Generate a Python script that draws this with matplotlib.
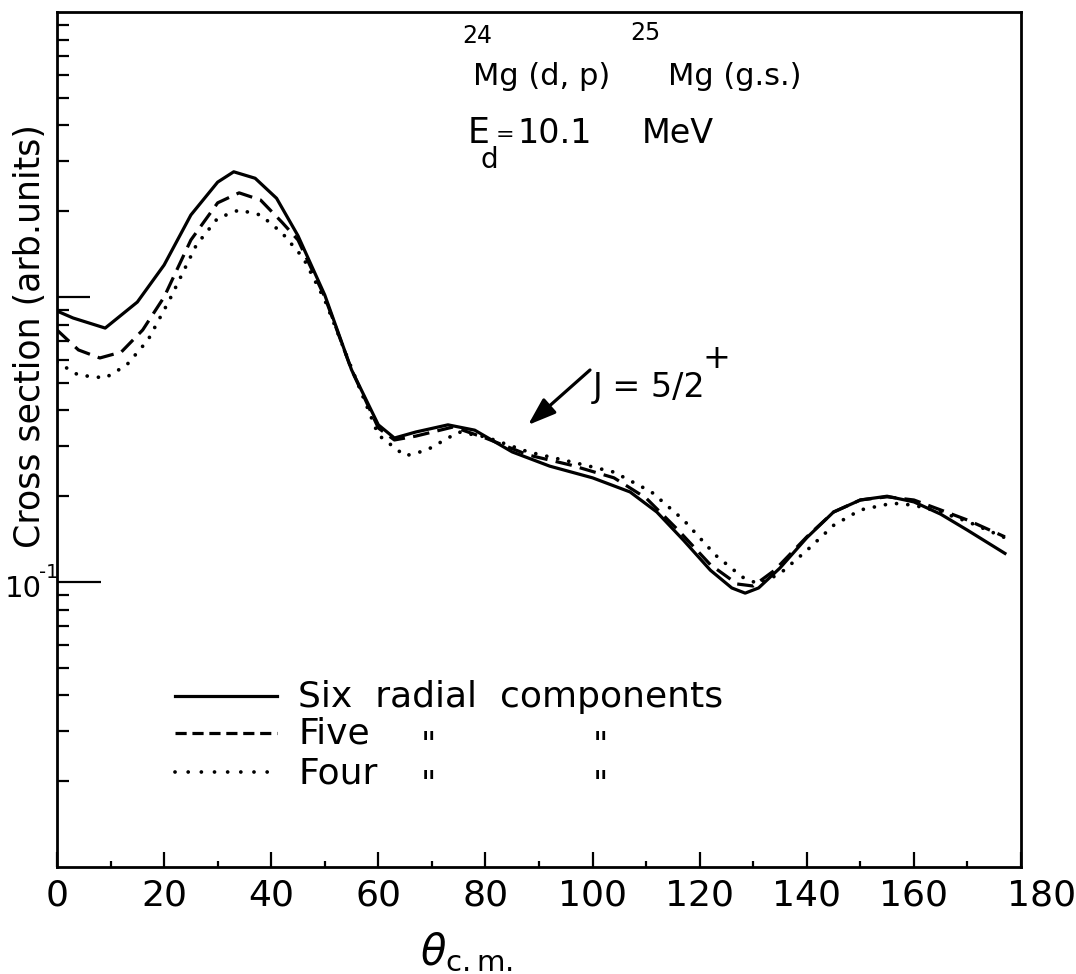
import numpy as np
import matplotlib
matplotlib.use('Agg')
import matplotlib.pyplot as plt
import matplotlib.transforms as mtransforms
from matplotlib.lines import Line2D
from matplotlib.ticker import FixedLocator, FixedFormatter, NullFormatter

W, H = 1076, 974

# angle (deg, c.m.) and cross section (arb. units)
theta_six = [0, 3, 9, 15, 20, 25, 30, 33, 37, 41, 45, 50, 55, 60, 63, 67, 73, 78, 85, 92,
             100, 107, 112, 117, 122, 126, 128.5, 131, 135, 140, 145, 150, 155, 160, 165, 170, 177]
sigma_six = [0.893, 0.844, 0.778, 0.960, 1.295, 1.94, 2.53, 2.75, 2.61, 2.22, 1.64, 1.016, 0.555,
             0.356, 0.320, 0.336, 0.356, 0.341, 0.286, 0.255, 0.232, 0.207, 0.176, 0.140, 0.110,
             0.0953, 0.0914, 0.0953, 0.112, 0.143, 0.176, 0.194, 0.200, 0.191, 0.173, 0.152, 0.126]

theta_five = [0, 4, 8, 12, 16, 20, 25, 30, 34, 38, 42, 45, 50, 55, 60, 63, 67, 74, 80, 88, 96,
              104, 110, 116, 122, 127, 130, 134, 140, 145, 150, 155, 160, 165, 170, 177]
sigma_five = [0.766, 0.652, 0.611, 0.641, 0.766, 1.0, 1.585, 2.14, 2.32, 2.19, 1.83, 1.585, 1.0,
              0.555, 0.347, 0.315, 0.325, 0.350, 0.320, 0.279, 0.257, 0.232, 0.197, 0.152, 0.115,
              0.0984, 0.0968, 0.110, 0.144, 0.176, 0.194, 0.199, 0.194, 0.179, 0.165, 0.144]

theta_four = [0, 4, 9, 13, 17, 21, 26, 30, 34, 38, 42, 46, 50, 55, 60, 65, 69, 75, 80, 88, 96,
              104, 111, 117, 123, 128, 131, 135, 140, 145, 150, 156, 160, 165, 170, 177]
sigma_four = [0.591, 0.532, 0.520, 0.577, 0.707, 0.976, 1.52, 1.89, 2.02, 1.94, 1.68, 1.37, 0.976,
              0.563, 0.328, 0.277, 0.290, 0.336, 0.323, 0.286, 0.264, 0.243, 0.207, 0.165, 0.124,
              0.104, 0.0984, 0.107, 0.129, 0.158, 0.179, 0.189, 0.186, 0.176, 0.163, 0.143]

x_ticks = [0, 20, 40, 60, 80, 100, 120, 140, 160, 180]
x_labels = ['0', '20', '40', '60', '80', '100', '120', '140', '160', '180']
x_minor = [10, 30, 50, 70, 90, 110, 130, 150, 170]
y_major = [0.1, 1.0]
y_minor = [0.02, 0.03, 0.04, 0.05, 0.06, 0.07, 0.08, 0.09,
           0.2, 0.3, 0.4, 0.5, 0.6, 0.7, 0.8, 0.9,
           2, 3, 4, 5, 6, 7, 8, 9]


def fx(px):
    return px / W


def fy(py):
    return 1 - py / H


fig = plt.figure(figsize=(W / 100, H / 100), dpi=100)
ax = fig.add_axes([fx(57), fy(867), (1021 - 57) / W, (867 - 12) / H])

ax.plot(theta_six, sigma_six, color='black', lw=2.3, solid_joinstyle='round')
ax.plot(theta_five, sigma_five, color='black', lw=2.3, linestyle=(0, (5.2, 2.6)))
ax.plot(theta_four, sigma_four, color='black', lw=2.7, linestyle=(0, (0.01, 3.0)),
        dash_capstyle='round')

ax.set_yscale('log')
ax.set_xlim(0, 180)
ax.set_ylim(0.01, 10)

for s in ax.spines.values():
    s.set_linewidth(2.0)

ax.xaxis.set_major_locator(FixedLocator(x_ticks))
ax.xaxis.set_major_formatter(FixedFormatter(x_labels))
ax.xaxis.set_minor_locator(FixedLocator(x_minor))
ax.yaxis.set_major_locator(FixedLocator(y_major))
ax.yaxis.set_major_formatter(NullFormatter())
ax.yaxis.set_minor_locator(FixedLocator(y_minor))
ax.yaxis.set_minor_formatter(NullFormatter())

ax.tick_params(axis='x', which='major', direction='in', length=11, width=1.6,
               labelsize=26, pad=8)
ax.tick_params(axis='x', which='minor', direction='in', length=4, width=1.6)
ax.tick_params(axis='y', which='major', direction='in', length=24, width=1.6)
ax.tick_params(axis='y', which='minor', direction='in', length=8.5, width=1.6)

# longer tick at 10^-1
ax.yaxis.get_major_ticks()[0].tick1line.set_markersize(32)

# "180" sits to the right of its tick in the original
lab = ax.get_xticklabels()[-1]
lab.set_transform(lab.get_transform() + mtransforms.ScaledTranslation(15 / 72, 0, fig.dpi_scale_trans))

# 10^-1 label, lettered by hand in the original
fig.text(fx(5), fy(597), '10', fontsize=21, ha='left', va='baseline')
fig.text(fx(39), fy(578), '-1', fontsize=14, ha='left', va='baseline')

# axis titles
fig.text(fx(30), fy(336), 'Cross section (arb.units)', rotation=90, fontsize=25,
         ha='center', va='center')
fig.text(fx(420), fy(965), r'$\theta_{\mathrm{c.m.}}$', fontsize=30, ha='left', va='baseline')

# reaction title
fig.text(fx(462), fy(43), '24', fontsize=17, ha='left', va='baseline')
fig.text(fx(473), fy(85), 'Mg (d, p)', fontsize=22, ha='left', va='baseline')
fig.text(fx(630), fy(40), '25', fontsize=17, ha='left', va='baseline')
fig.text(fx(668), fy(85), 'Mg (g.s.)', fontsize=22, ha='left', va='baseline')

fig.text(fx(468), fy(143), 'E', fontsize=25, ha='left', va='baseline')
fig.text(fx(481), fy(168), 'd', fontsize=20, ha='left', va='baseline')
fig.text(fx(496), fy(141), '=', fontsize=16, ha='left', va='baseline')
fig.text(fx(517), fy(143), '10.1', fontsize=24, ha='left', va='baseline')
fig.text(fx(642), fy(143), 'MeV', fontsize=24, ha='left', va='baseline')

# J label with arrow
fig.text(fx(593), fy(397), 'J = 5/2', fontsize=24, ha='left', va='baseline')
fig.text(fx(703), fy(368), '+', fontsize=24, ha='left', va='baseline')
ax.annotate('', xy=(fx(528), fy(425)), xycoords='figure fraction',
            xytext=(fx(590), fy(370)), textcoords='figure fraction',
            arrowprops=dict(arrowstyle='-|>,head_length=1.0,head_width=0.35', lw=2.3,
                            color='black', mutation_scale=17, shrinkA=0, shrinkB=0))

# legend drawn by hand
fig.add_artist(Line2D([fx(175), fx(277)], [fy(696), fy(696)], color='black', lw=2.3))
fig.add_artist(Line2D([fx(175), fx(277)], [fy(733), fy(733)], color='black', lw=2.3,
                      linestyle=(0, (3.5, 1.8))))
fig.add_artist(Line2D([fx(175), fx(277)], [fy(772), fy(772)], color='black', lw=2.7,
                      linestyle=(0, (0.01, 3.5)), dash_capstyle='round'))

fig.text(fx(298), fy(707), 'Six  radial  components', fontsize=26, ha='left', va='baseline')
fig.text(fx(298), fy(744), 'Five', fontsize=26, ha='left', va='baseline')
fig.text(fx(298), fy(783), 'Four', fontsize=26, ha='left', va='baseline')
for py in (744, 783):
    fig.text(fx(428), fy(py + 12), '"', fontsize=24, ha='center', va='baseline')
    fig.text(fx(600), fy(py + 12), '"', fontsize=24, ha='center', va='baseline')

fig.savefig('out.png', dpi=100)
